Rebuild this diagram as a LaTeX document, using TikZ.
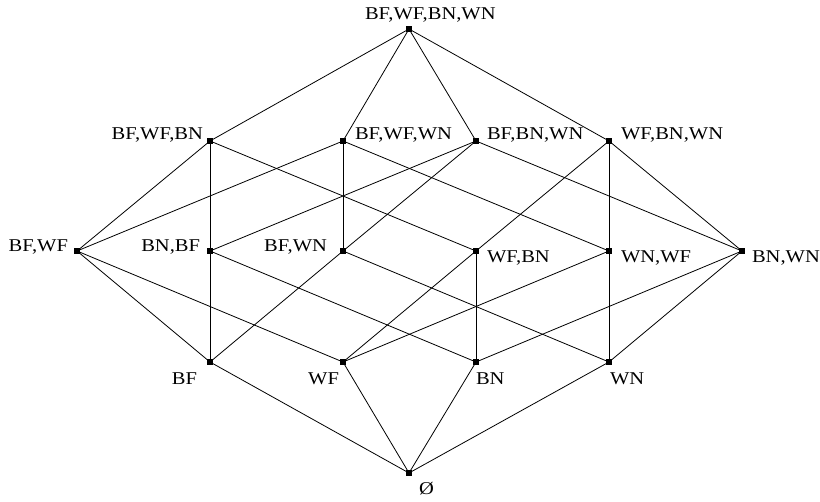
\documentclass[tikz,border=0pt]{standalone}
\usepackage{fontspec}
\newfontfamily\labfont[FakeStretch=1.14]{Liberation Serif}
\begin{document}
\begin{tikzpicture}[x=1pt,y=-1pt,
  vtx/.style={fill=black,draw=none,minimum size=6pt,inner sep=0pt,outer sep=0pt,rectangle},
  lab/.style={font=\labfont\fontsize{18}{18}\selectfont,inner sep=0pt,outer sep=0pt},
  edge/.style={line width=0.8pt,black}]
\useasboundingbox (0,0) rectangle (820,502);
% vertices
\node[vtx] (t)  at (409,29) {};
\node[vtx] (a3) at (210,141) {};
\node[vtx] (b3) at (343,141) {};
\node[vtx] (c3) at (476,141) {};
\node[vtx] (d3) at (609,141) {};
\node[vtx] (p)  at (77,251) {};
\node[vtx] (q)  at (210,251) {};
\node[vtx] (r)  at (343,251) {};
\node[vtx] (s)  at (476,251) {};
\node[vtx] (u)  at (609,251) {};
\node[vtx] (w)  at (742,251) {};
\node[vtx] (bf) at (210,362) {};
\node[vtx] (wf) at (343,362) {};
\node[vtx] (bn) at (476,362) {};
\node[vtx] (wn) at (609,362) {};
\node[vtx] (e)  at (409,473) {};
% edges
\foreach \x in {a3,b3,c3,d3} \draw[edge] (t) -- (\x);
\draw[edge] (a3) -- (p); \draw[edge] (a3) -- (q); \draw[edge] (a3) -- (s);
\draw[edge] (b3) -- (p); \draw[edge] (b3) -- (r); \draw[edge] (b3) -- (u);
\draw[edge] (c3) -- (q); \draw[edge] (c3) -- (r); \draw[edge] (c3) -- (w);
\draw[edge] (d3) -- (s); \draw[edge] (d3) -- (u); \draw[edge] (d3) -- (w);
\draw[edge] (p) -- (bf); \draw[edge] (p) -- (wf);
\draw[edge] (q) -- (bf); \draw[edge] (q) -- (bn);
\draw[edge] (r) -- (bf); \draw[edge] (r) -- (wn);
\draw[edge] (s) -- (wf); \draw[edge] (s) -- (bn);
\draw[edge] (u) -- (wf); \draw[edge] (u) -- (wn);
\draw[edge] (w) -- (bn); \draw[edge] (w) -- (wn);
\foreach \x in {bf,wf,bn,wn} \draw[edge] (\x) -- (e);
% labels
\node[lab,anchor=base west] (lt) at (365,19.5) {BF,WF,BN,WN};
\node[lab,anchor=base east] (la3) at (203,140) {BF,WF,BN};
\node[lab,anchor=base west] (lb3) at (355,140) {BF,WF,WN};
\node[lab,anchor=base west] (lc3) at (487,140) {BF,BN,WN};
\node[lab,anchor=base west] (ld3) at (621,140) {WF,BN,WN};
\node[lab,anchor=base east] (lp) at (68,252) {BF,WF};
\node[lab,anchor=base east] (lq) at (200,252) {BN,BF};
\node[lab,anchor=base east] (lr) at (327,252) {BF,WN};
\node[lab,anchor=base west] (ls) at (487,262.5) {WF,BN};
\node[lab,anchor=base west] (lu) at (621,262.5) {WN,WF};
\node[lab,anchor=base west] (lw) at (752,262.5) {BN,WN};
\node[lab,anchor=base east] (lbf) at (197,385) {BF};
\node[lab,anchor=base east] (lwf) at (339,385) {WF};
\node[lab,anchor=base west] (lbn) at (476,385) {BN};
\node[lab,anchor=base west] (lwn) at (610,385) {WN};
\node[lab,anchor=base west] (le) at (419,495) {Ø};
\end{tikzpicture}
\end{document}
